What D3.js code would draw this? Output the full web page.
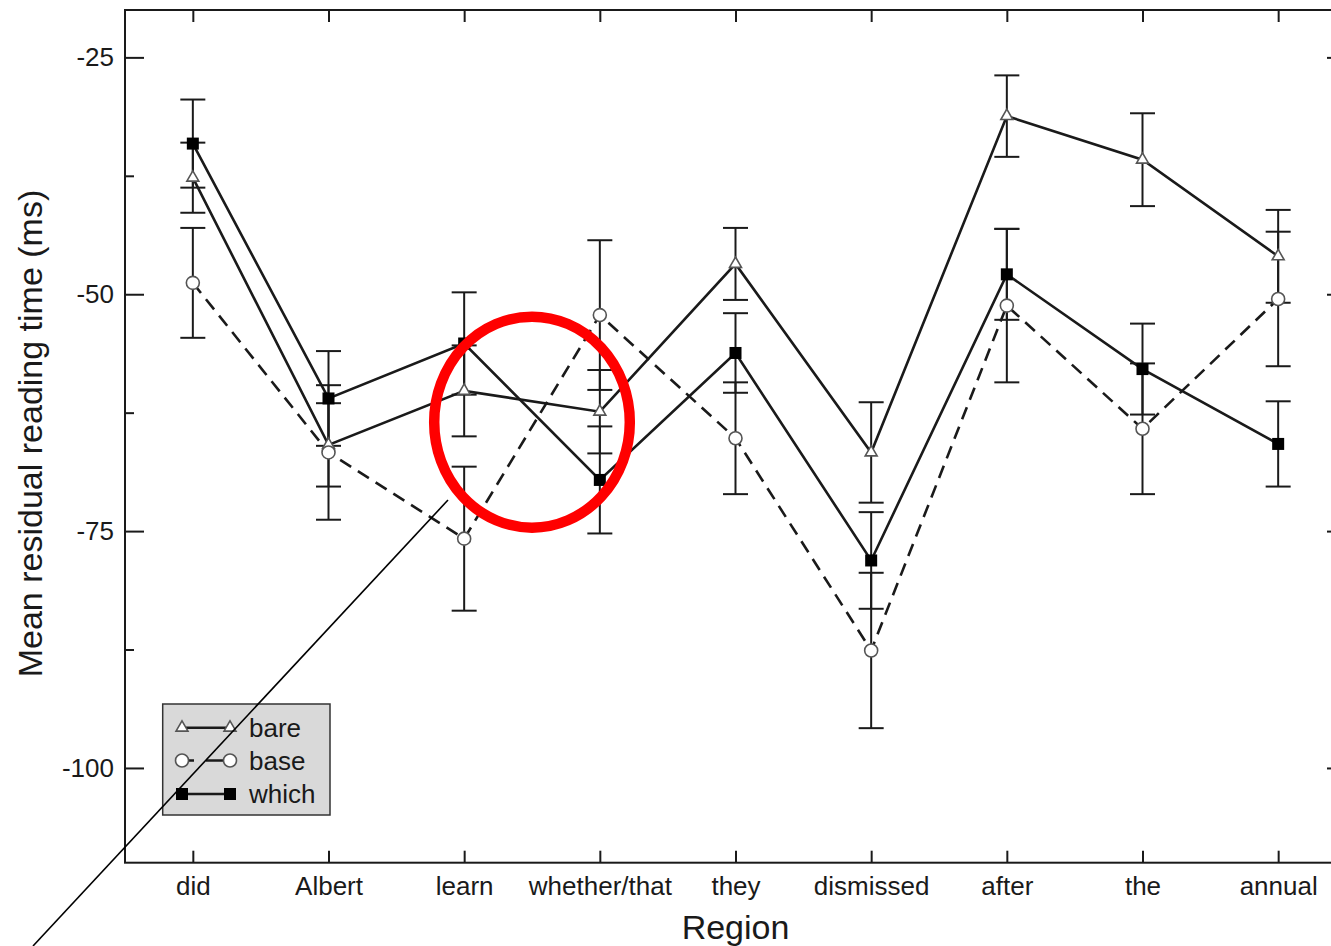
<!DOCTYPE html>
<html>
<head>
<meta charset="utf-8">
<script src="https://cdn.jsdelivr.net/npm/d3@7"></script>
<style>
  html, body { margin: 0; padding: 0; background: #fff; }
  svg { display: block; font-family: "Liberation Sans", Arial, Helvetica, sans-serif; }
</style>
</head>
<body>
<svg id="chart" width="1331" height="946"></svg>
<script>
// ---- data ----
const categories = ["did", "Albert", "learn", "whether/that", "they", "dismissed", "after", "the", "annual"];
const bareValues  = [-37.7, -65.9, -60.2, -62.4, -46.8, -66.7, -31.2, -35.8, -46.0];
const bareErr     = [3.7, 4.4, 4.8, 4.4, 3.8, 5.3, 4.3, 4.9, 4.9];
const baseValues  = [-48.8, -66.7, -75.8, -52.2, -65.2, -87.6, -51.2, -64.2, -50.5];
const baseErr     = [5.8, 7.1, 7.6, 7.9, 5.9, 8.2, 8.1, 6.9, 7.1];
const whichValues = [-34.1, -61.0, -55.2, -69.6, -56.2, -78.1, -47.9, -57.9, -65.8];
const whichErr    = [4.65, 5.0, 5.4, 5.65, 4.2, 5.1, 4.8, 4.8, 4.5];
const seriesNames = ["bare", "base", "which"];
const yMajorTicks = [-100, -75, -50, -25];
const yTickLabels = ["-100", "-75", "-50", "-25"];
const yMinorTicks = [-87.5, -62.5, -37.5];
const yDomain = [-110, -20];

// ---- layout ----
const svg = d3.select("#chart");
const L = 125, R = 1346, T = 10, B = 862.7;
const x = d3.scalePoint().domain(categories).range([L, R]).padding(0.5);
const y = d3.scaleLinear().domain(yDomain).range([B, T]);
const ink = "#1a1a1a";
const fs = 26;

const series = [
  {name: seriesNames[0], vals: bareValues, errs: bareErr, dash: null, marker: "triangle"},
  {name: seriesNames[1], vals: baseValues, errs: baseErr, dash: "13,8", marker: "circle"},
  {name: seriesNames[2], vals: whichValues, errs: whichErr, dash: null, marker: "square"}
];

// axes
function styleAxis(g) {
  g.select(".domain").remove();
  g.selectAll(".tick line").attr("stroke", ink).attr("stroke-width", 2);
  g.selectAll(".tick text").attr("fill", ink).style("font-size", fs + "px")
    .style("font-family", "'Liberation Sans', Arial, sans-serif");
}
svg.append("g").attr("transform", `translate(${L},0)`)
  .call(d3.axisLeft(y).tickValues(yMajorTicks).tickSize(-19).tickPadding(11)
    .tickFormat(d => yTickLabels[yMajorTicks.indexOf(d)]))
  .call(styleAxis);
svg.append("g").attr("transform", `translate(${L},0)`)
  .call(d3.axisLeft(y).tickValues(yMinorTicks).tickSize(-9).tickFormat(""))
  .call(styleAxis);
svg.append("g").attr("transform", `translate(${R},0)`)
  .call(d3.axisRight(y).tickValues(yMajorTicks).tickSize(-19).tickFormat(""))
  .call(styleAxis);
svg.append("g").attr("transform", `translate(${R},0)`)
  .call(d3.axisRight(y).tickValues(yMinorTicks).tickSize(-9).tickFormat(""))
  .call(styleAxis);
svg.append("g").attr("transform", `translate(0,${B})`)
  .call(d3.axisBottom(x).tickSize(-12).tickPadding(14))
  .call(styleAxis);
svg.append("g").attr("transform", `translate(0,${T})`)
  .call(d3.axisTop(x).tickSize(-12).tickFormat(""))
  .call(styleAxis);

// frame
svg.append("rect").attr("x", L).attr("y", T).attr("width", R - L).attr("height", B - T)
  .attr("fill", "none").attr("stroke", ink).attr("stroke-width", 2);

// axis titles
svg.append("text").attr("x", (L + R) / 2).attr("y", 939).attr("text-anchor", "middle")
  .attr("fill", ink).style("font-size", "34px").text("Region");
svg.append("text").attr("transform", `translate(42,${433.5}) rotate(-90)`).attr("text-anchor", "middle")
  .attr("fill", ink).style("font-size", "34px").text("Mean residual reading time (ms)");

// error bars
const capW = 12.5;
series.forEach(s => {
  const g = svg.append("g").attr("stroke", ink).attr("stroke-width", 2);
  categories.forEach((c, i) => {
    const cx = x(c), hi = y(s.vals[i] + s.errs[i]), lo = y(s.vals[i] - s.errs[i]);
    g.append("line").attr("x1", cx).attr("x2", cx).attr("y1", hi).attr("y2", lo);
    g.append("line").attr("x1", cx - capW).attr("x2", cx + capW).attr("y1", hi).attr("y2", hi);
    g.append("line").attr("x1", cx - capW).attr("x2", cx + capW).attr("y1", lo).attr("y2", lo);
  });
});

// lines
const line = d3.line().x((d, i) => x(categories[i])).y(d => y(d));
series.forEach(s => {
  svg.append("path").datum(s.vals).attr("d", line).attr("fill", "none")
    .attr("stroke", ink).attr("stroke-width", 2.6)
    .attr("stroke-dasharray", s.dash);
});

// markers
function drawMarker(g, type, cx, cy) {
  if (type === "square") {
    g.append("rect").attr("x", cx - 6).attr("y", cy - 6).attr("width", 12).attr("height", 12)
      .attr("fill", "#000");
  } else if (type === "circle") {
    g.append("circle").attr("cx", cx).attr("cy", cy).attr("r", 6.5)
      .attr("fill", "#fff").attr("stroke", "#555").attr("stroke-width", 1.6);
  } else {
    g.append("path").attr("d", d3.symbol(d3.symbolTriangle, 62)())
      .attr("transform", `translate(${cx},${cy})`)
      .attr("fill", "#fff").attr("stroke", "#555").attr("stroke-width", 1.6);
  }
}
series.forEach(s => {
  const g = svg.append("g");
  categories.forEach((c, i) => drawMarker(g, s.marker, x(c), y(s.vals[i])));
});

// legend
const lg = svg.append("g");
lg.append("rect").attr("x", 162.7).attr("y", 704).attr("width", 167.3).attr("height", 111)
  .attr("fill", "#d9d9d9").attr("stroke", "#333").attr("stroke-width", 1.5);
const legRows = [727.7, 760.5, 794];
series.forEach((s, k) => {
  const ly = legRows[k];
  lg.append("line").attr("x1", 182).attr("x2", 230).attr("y1", ly).attr("y2", ly)
    .attr("stroke", ink).attr("stroke-width", 2.6)
    .attr("stroke-dasharray", s.dash ? "12,12,24" : null);
  drawMarker(lg, s.marker, 182, ly);
  drawMarker(lg, s.marker, 230, ly);
  lg.append("text").attr("x", 249).attr("y", ly).attr("dy", "0.35em")
    .attr("fill", ink).style("font-size", fs + "px").text(s.name);
});

// annotations (highlight ellipse and pointer line)
const ex = (x("learn") + x("whether/that")) / 2;
svg.append("ellipse").attr("cx", ex).attr("cy", y(-63.5)).attr("rx", 97.8).attr("ry", 105.5)
  .attr("fill", "none").attr("stroke", "#ff0000").attr("stroke-width", 10.5);
svg.append("line").attr("x1", 448).attr("y1", 500).attr("x2", 33).attr("y2", 946)
  .attr("stroke", "#000").attr("stroke-width", 1.6);
</script>
</body>
</html>
